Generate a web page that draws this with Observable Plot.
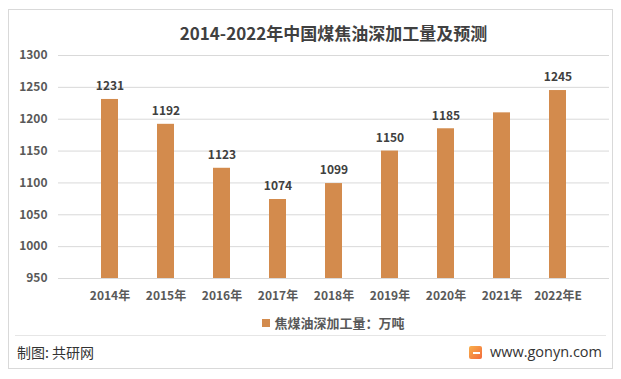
<!DOCTYPE html>
<html>
<head>
<meta charset="utf-8">
<script src="https://cdn.jsdelivr.net/npm/d3@7"></script>
<script src="https://cdn.jsdelivr.net/npm/@observablehq/plot@0.6"></script>
<style>
  html, body { margin: 0; padding: 0; background: #fff; }
  body { width: 621px; height: 379px; position: relative; overflow: hidden;
         font-family: "Microsoft YaHei", "Noto Sans CJK SC", "Noto Sans", sans-serif; }
  #frame { position: absolute; left: 8px; top: 9px; width: 603px; height: 358px; border: 1px solid #d9d9d9; }
  #title { position: absolute; left: 58px; width: 551px; top: 22px; text-align: center;
           font-size: 17px; line-height: 22px; font-weight: bold; color: #404040; }
  #chart { position: absolute; left: 0; top: 0; }
  #legend { position: absolute; left: 58px; width: 551px; top: 314px; text-align: center;
            font-size: 13px; line-height: 18px; color: #595959; font-weight: bold; }
  #legend .sw { display: inline-block; width: 8px; height: 8px; background: #D38B4D; margin-right: 4px; vertical-align: 1px; }
  #sep { position: absolute; left: 15px; width: 591px; top: 335px; height: 1px; background: #e6e6e6; }
  #src { position: absolute; left: 17px; top: 343px; font-size: 14px; line-height: 18px; color: #333; }
  #site { position: absolute; right: 19px; top: 342px; font-size: 14.5px; line-height: 20px; color: #333;
          font-family: "Open Sans", "Noto Sans", sans-serif; display: flex; align-items: center; }
  #logo { width: 13px; height: 13px; margin-right: 8px; border-radius: 2px;
          background: linear-gradient(135deg, #f9b04a, #f26a3c); position: relative; }
  #logo::after { content: ""; position: absolute; left: 4px; top: 6px; width: 7px; height: 2px; background: #fff; }
</style>
</head>
<body>
<div id="frame"></div>
<div id="title">2014-2022年中国煤焦油深加工量及预测</div>
<div id="chart"></div>
<div id="legend"><span class="sw"></span>焦煤油深加工量：万吨</div>
<div id="sep"></div>
<div id="src">制图: 共研网</div>
<div id="site"><span id="logo"></span>www.gonyn.com</div>
<script>
const years = ["2014年", "2015年", "2016年", "2017年", "2018年", "2019年", "2020年", "2021年", "2022年E"];
const values = [1231, 1192, 1123, 1074, 1099, 1150, 1185, 1210, 1245];
const valueLabels = ["1231", "1192", "1123", "1074", "1099", "1150", "1185", "", "1245"];
const yTicks = [950, 1000, 1050, 1100, 1150, 1200, 1250, 1300];
const yBase = 950;

const data = years.map((year, i) => ({ year, value: values[i], label: valueLabels[i] }));

const chart = Plot.plot({
  width: 621,
  height: 310,
  marginTop: 55,
  marginBottom: 32,
  marginLeft: 58,
  marginRight: 12,
  style: { fontFamily: '"Microsoft YaHei", "Noto Sans CJK SC", sans-serif', fontSize: "12px", color: "#595959", background: "transparent" },
  x: { domain: years, padding: 0.69, label: null },
  y: { domain: [950, 1300], label: null },
  marks: [
    Plot.gridY(yTicks, { stroke: "#d9d9d9", strokeOpacity: 1 }),
    Plot.barY(data, { x: "year", y1: yBase, y2: "value", fill: "#D38B4D" }),
    Plot.text(data, { x: "year", y: "value", text: "label", dy: -13, fill: "#404040", fontWeight: "bold", fontSize: 12 }),
    Plot.axisY(yTicks, { tickSize: 0, tickPadding: 11, label: null, fontWeight: "bold", fill: "#595959", tickFormat: d => String(d) }),
    Plot.axisX({ tickSize: 0, tickPadding: 13, label: null, fontWeight: "bold", fill: "#595959" })
  ]
});
document.getElementById("chart").appendChild(chart);
</script>
</body>
</html>
